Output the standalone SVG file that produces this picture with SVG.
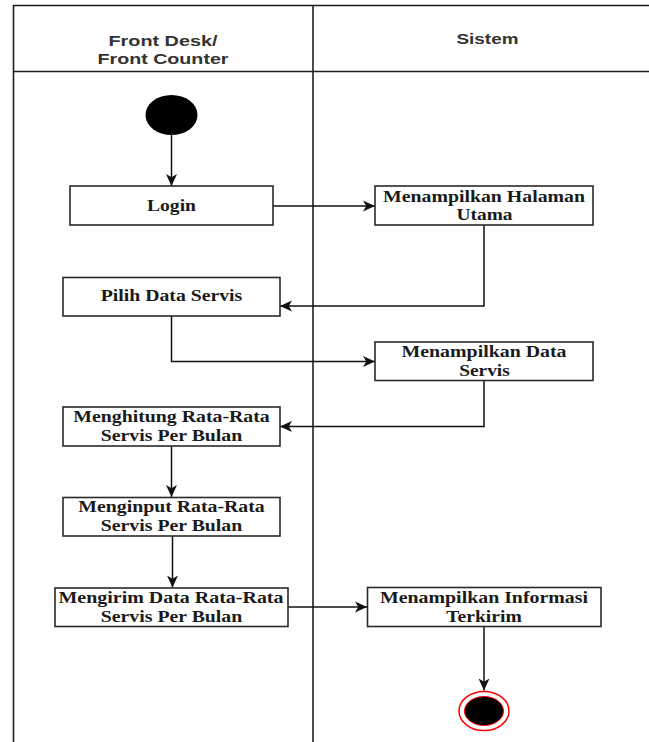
<svg xmlns="http://www.w3.org/2000/svg" width="649" height="742" viewBox="0 0 649 742">
  <style>
    .lane { fill: none; stroke: #1e1e1e; stroke-width: 1.6; }
    .hdr { font-family: "Liberation Sans", Arial, sans-serif; font-weight: bold; font-size: 15px; fill: #333; text-anchor: middle; }
    .box { fill: #fff; stroke: #2a2a2a; stroke-width: 1.6; }
    .lbl { font-family: "Liberation Serif", "Times New Roman", serif; font-weight: bold; font-size: 16px; fill: #1a1a1a; text-anchor: middle; }
    .edge { fill: none; stroke: #111; stroke-width: 1.5; marker-end: url(#arrow); }
  </style>
  <defs>
    <marker id="arrow" markerUnits="userSpaceOnUse" markerWidth="13" markerHeight="12" refX="12" refY="6" orient="auto">
      <path d="M0,0.5 L12,6 L0,11.5 L3.2,6 Z" fill="#111"/>
    </marker>
  </defs>

  <rect width="649" height="742" fill="#fff"/>

  <!-- swimlane frame -->
  <g id="lanes">
    <path class="lane" d="M13.5,742 V5.5 H649 M313,5.5 V742 M13.5,71.5 H649"/>
    <text class="hdr" x="163" y="46" textLength="109" lengthAdjust="spacingAndGlyphs">Front Desk/</text>
    <text class="hdr" x="163" y="64" textLength="131" lengthAdjust="spacingAndGlyphs">Front Counter</text>
    <text class="hdr" x="487.5" y="44" textLength="62" lengthAdjust="spacingAndGlyphs">Sistem</text>
  </g>

  <!-- connectors -->
  <g id="connectors">
    <path class="edge" d="M171.5,135 V186"/>
    <path class="edge" d="M273,206 H375"/>
    <path class="edge" d="M484,225 V306 H280"/>
    <path class="edge" d="M171.5,316 V361.5 H375"/>
    <path class="edge" d="M484,380.5 V426.5 H280"/>
    <path class="edge" d="M171.5,446 V497"/>
    <path class="edge" d="M172.5,536 V587.5"/>
    <path class="edge" d="M288,607 H367"/>
    <path class="edge" d="M484,626.5 V690.5"/>
  </g>

  <g id="start">
    <ellipse cx="171.5" cy="115" rx="26" ry="20" fill="#000"/>
  </g>

  <g id="login">
    <rect class="box" x="70" y="186" width="203" height="39"/>
    <text class="lbl" x="171.5" y="211" textLength="49" lengthAdjust="spacingAndGlyphs">Login</text>
  </g>

  <g id="halaman-utama">
    <rect class="box" x="375" y="186" width="218" height="39"/>
    <text class="lbl" x="484" y="202" textLength="202" lengthAdjust="spacingAndGlyphs">Menampilkan Halaman</text>
    <text class="lbl" x="484.5" y="220" textLength="56" lengthAdjust="spacingAndGlyphs">Utama</text>
  </g>

  <g id="pilih-data">
    <rect class="box" x="63" y="277.5" width="217" height="38.5"/>
    <text class="lbl" x="171.5" y="301" textLength="141.5" lengthAdjust="spacingAndGlyphs">Pilih Data Servis</text>
  </g>

  <g id="tampil-data">
    <rect class="box" x="375" y="342" width="218" height="38.5"/>
    <text class="lbl" x="484" y="357" textLength="165" lengthAdjust="spacingAndGlyphs">Menampilkan Data</text>
    <text class="lbl" x="484.5" y="375.5" textLength="50.5" lengthAdjust="spacingAndGlyphs">Servis</text>
  </g>

  <g id="menghitung">
    <rect class="box" x="63" y="407" width="217" height="39"/>
    <text class="lbl" x="171.5" y="422" textLength="196.5" lengthAdjust="spacingAndGlyphs">Menghitung Rata-Rata</text>
    <text class="lbl" x="171.5" y="440.5" textLength="141.5" lengthAdjust="spacingAndGlyphs">Servis Per Bulan</text>
  </g>

  <g id="menginput">
    <rect class="box" x="63" y="497.5" width="217" height="38.5"/>
    <text class="lbl" x="171.5" y="512" textLength="186.5" lengthAdjust="spacingAndGlyphs">Menginput Rata-Rata</text>
    <text class="lbl" x="171.5" y="530.5" textLength="141.5" lengthAdjust="spacingAndGlyphs">Servis Per Bulan</text>
  </g>

  <g id="mengirim">
    <rect class="box" x="55" y="588" width="233" height="38.5"/>
    <text class="lbl" x="171" y="602.5" textLength="225" lengthAdjust="spacingAndGlyphs">Mengirim Data Rata-Rata</text>
    <text class="lbl" x="171.5" y="621.5" textLength="141.5" lengthAdjust="spacingAndGlyphs">Servis Per Bulan</text>
  </g>

  <g id="info-terkirim">
    <rect class="box" x="367.5" y="587.5" width="233.5" height="39"/>
    <text class="lbl" x="484" y="602.5" textLength="208" lengthAdjust="spacingAndGlyphs">Menampilkan Informasi</text>
    <text class="lbl" x="484" y="621.5" textLength="75.5" lengthAdjust="spacingAndGlyphs">Terkirim</text>
  </g>

  <g id="end">
    <ellipse cx="484" cy="711" rx="25" ry="19.5" fill="#fff" stroke="#ff0000" stroke-width="1.5"/>
    <ellipse cx="484" cy="711" rx="19.5" ry="14.5" fill="#000" stroke="#ff0000" stroke-width="1"/>
  </g>
</svg>
